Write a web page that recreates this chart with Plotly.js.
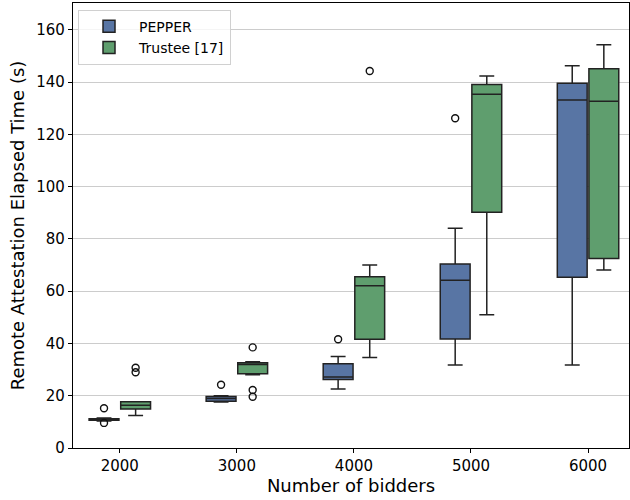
<!DOCTYPE html>
<html>
<head>
<meta charset="utf-8">
<script src="https://cdn.plot.ly/plotly-3.0.1.min.js"></script>
<style>html,body{margin:0;padding:0;background:#fff;} #chart{width:630px;height:500px;}</style>
</head>
<body>
<div id="chart"></div>
<script>
// ---- data ----
const categories = ['2000', '3000', '4000', '5000', '6000'];

const pepperQ1     = [10.6, 17.9, 26.2, 41.7, 65.3];
const pepperMedian = [10.9, 18.9, 27.2, 64.2, 133.2];
const pepperQ3     = [11.2, 19.7, 32.2, 70.4, 139.6];
const pepperLow    = [10.3, 17.6, 22.6, 31.8, 31.8];
const pepperHigh   = [11.5, 20.0, 35.0, 84.1, 146.3];
const pepperOutliers = [[15.2, 9.6], [24.2], [41.6], [126.2], []];

const trusteeQ1     = [14.9, 28.4, 41.6, 90.2, 72.5];
const trusteeMedian = [16.4, 32.0, 62.1, 135.4, 132.7];
const trusteeQ3     = [17.7, 32.6, 65.5, 139.1, 145.1];
const trusteeLow    = [12.4, 28.0, 34.6, 51.0, 68.1];
const trusteeHigh   = [17.7, 33.0, 70.0, 142.4, 154.3];
const trusteeOutliers = [[30.7, 29.0], [38.5, 22.2, 19.6], [144.3], [], []];

const seriesNames = ['PEPPER', 'Trustee [17]'];

// ---- styling ----
const colors = ['#5875a4', '#5f9e6e'];
const offset = 0.135;
const boxWidth = 0.255;
const idx = categories.map((c, i) => i);

function boxTrace(name, color, off, q1, med, q3, lo, hi) {
  return {
    type: 'box', name: name,
    x: idx.map(i => i + off),
    q1: q1, median: med, q3: q3, lowerfence: lo, upperfence: hi,
    width: boxWidth,
    fillcolor: color,
    line: {color: '#222222', width: 1.5},
    whiskerwidth: 0.5,
    boxpoints: false,
    hoverinfo: 'y'
  };
}
function outlierTrace(off, outs) {
  const xs = [], ys = [];
  outs.forEach((arr, i) => arr.forEach(v => { xs.push(i + off); ys.push(v); }));
  return {
    type: 'scatter', mode: 'markers', x: xs, y: ys, showlegend: false,
    marker: {symbol: 'circle-open', size: 7, color: '#111111', line: {width: 1.4, color: '#111111'}},
    hoverinfo: 'y'
  };
}

const data = [
  boxTrace(seriesNames[0], colors[0], -offset, pepperQ1, pepperMedian, pepperQ3, pepperLow, pepperHigh),
  boxTrace(seriesNames[1], colors[1], offset, trusteeQ1, trusteeMedian, trusteeQ3, trusteeLow, trusteeHigh),
  outlierTrace(-offset, pepperOutliers),
  outlierTrace(offset, trusteeOutliers)
];

const layout = {
  width: 630, height: 500,
  margin: {l: 73, r: 1, t: 3, b: 52},
  paper_bgcolor: '#ffffff', plot_bgcolor: '#ffffff',
  font: {family: 'DejaVu Sans, sans-serif', color: '#000000'},
  boxmode: 'overlay',
  showlegend: true,
  legend: {
    x: 0.009, y: 0.985, xanchor: 'left', yanchor: 'top',
    bgcolor: 'rgba(255,255,255,0.8)', bordercolor: '#d0d0d0', borderwidth: 1,
    font: {size: 14, family: 'DejaVu Sans, sans-serif'},
    itemwidth: 50,
    traceorder: 'normal'
  },
  xaxis: {
    range: [-0.40, 4.35],
    tickmode: 'array', tickvals: idx, ticktext: categories,
    showgrid: false, zeroline: false,
    showline: true, linecolor: '#000000', linewidth: 1.2, mirror: true,
    ticks: 'outside', ticklen: 4, tickcolor: '#000000',
    tickfont: {size: 15},
    title: {text: 'Number of bidders', font: {size: 18}, standoff: 4}
  },
  yaxis: {
    range: [0, 170.3],
    tickvals: [0, 20, 40, 60, 80, 100, 120, 140, 160],
    showgrid: true, gridcolor: '#cccccc', gridwidth: 1,
    zeroline: false,
    showline: true, linecolor: '#000000', linewidth: 1.2, mirror: true,
    ticks: 'outside', ticklen: 4, tickcolor: '#000000',
    tickfont: {size: 15},
    title: {text: 'Remote Attestation Elapsed Time (s)', font: {size: 18}, standoff: 6}
  }
};

Plotly.newPlot('chart', data, layout, {displayModeBar: false, staticPlot: true});
</script>
</body>
</html>
